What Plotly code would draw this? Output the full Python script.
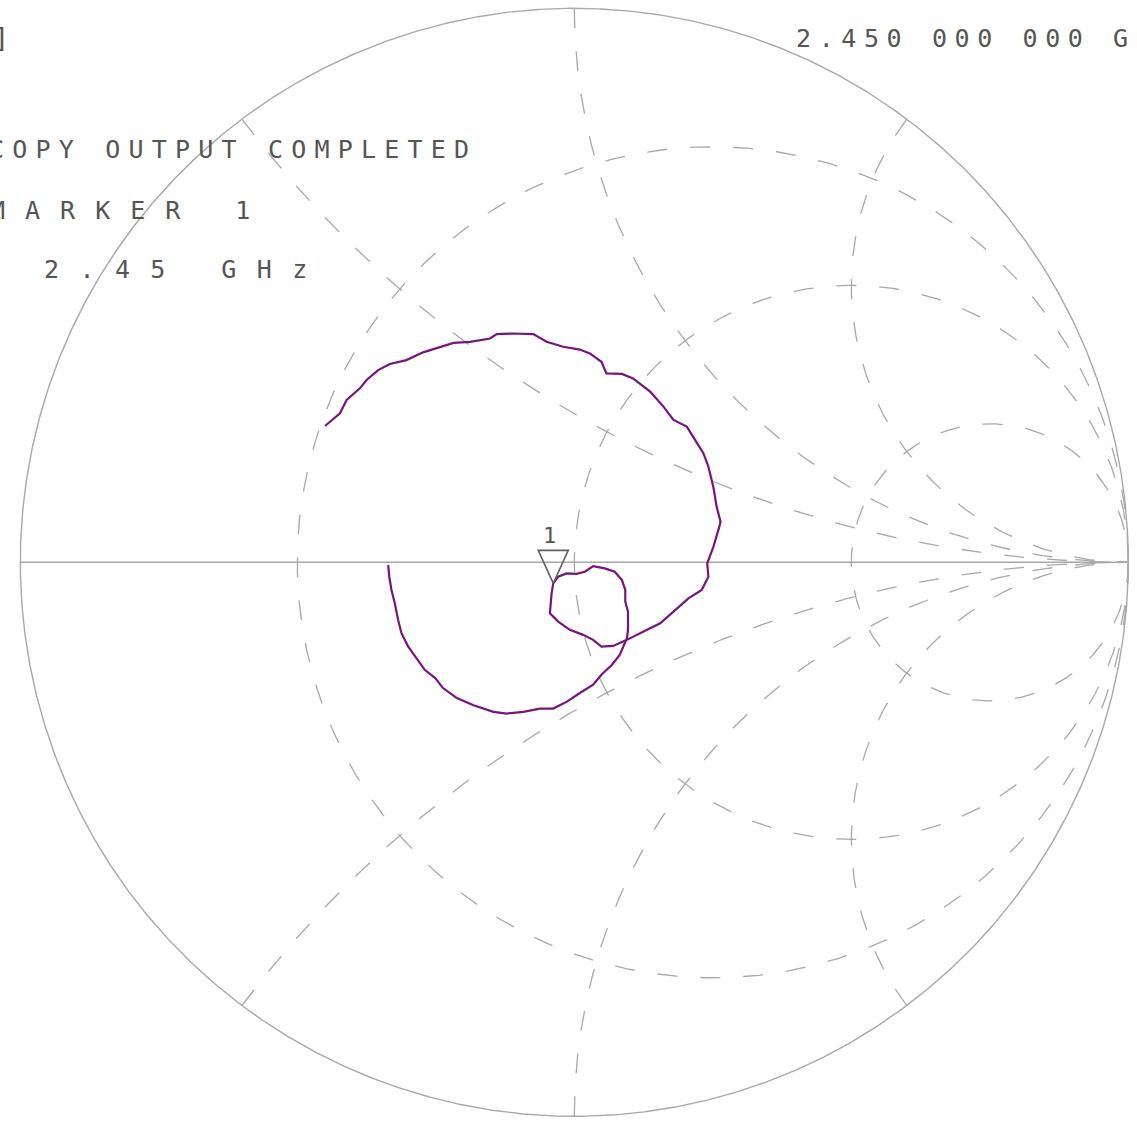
import numpy as np
import plotly.graph_objects as go

# ---- S11 sweep as reflection coefficient (real / imaginary parts) ----
s11_re = [-0.336, -0.334, -0.330, -0.324, -0.318, -0.312, -0.300, -0.285, -0.270, -0.251,
          -0.237, -0.212, -0.182, -0.146, -0.122, -0.092, -0.062, -0.038, -0.014, 0.010,
          0.034, 0.049, 0.068, 0.082, 0.092, 0.095, 0.097, 0.097, 0.092, 0.092,
          0.086, 0.073, 0.055, 0.034, 0.019, 0.004, -0.014, -0.029, -0.038, -0.041,
          -0.044, -0.029, -0.008, 0.016, 0.034, 0.049, 0.070, 0.095, 0.125, 0.155,
          0.179, 0.206, 0.230, 0.242, 0.240, 0.251, 0.260, 0.264, 0.257, 0.251,
          0.242, 0.233, 0.218, 0.203, 0.179, 0.161, 0.137, 0.106, 0.086, 0.058,
          0.049, 0.028, 0.010, -0.020, -0.050, -0.074, -0.110, -0.140, -0.152, -0.188,
          -0.218, -0.242, -0.273, -0.303, -0.333, -0.354, -0.375, -0.387, -0.411, -0.423,
          -0.450]
s11_im = [-0.005, -0.026, -0.050, -0.074, -0.104, -0.128, -0.152, -0.173, -0.194, -0.209,
          -0.227, -0.245, -0.258, -0.270, -0.273, -0.270, -0.264, -0.264, -0.252, -0.236,
          -0.221, -0.203, -0.185, -0.167, -0.146, -0.137, -0.122, -0.089, -0.071, -0.050,
          -0.032, -0.017, -0.011, -0.007, -0.017, -0.021, -0.020, -0.026, -0.038, -0.056,
          -0.092, -0.107, -0.122, -0.131, -0.140, -0.152, -0.151, -0.140, -0.125, -0.110,
          -0.089, -0.065, -0.050, -0.026, -0.002, 0.028, 0.058, 0.073, 0.100, 0.136,
          0.173, 0.197, 0.221, 0.245, 0.257, 0.281, 0.308, 0.332, 0.340, 0.341,
          0.362, 0.377, 0.384, 0.389, 0.398, 0.412, 0.413, 0.412, 0.404, 0.398,
          0.396, 0.389, 0.379, 0.365, 0.358, 0.347, 0.329, 0.314, 0.293, 0.269,
          0.246]

# ---- marker 1 ----
marker_label = "1"
marker_re = -0.038
marker_im = -0.038

# ---- screen annotations ----
top_left_text = "]"
status_text = "COPY OUTPUT COMPLETED"
marker_title = "MARKER 1"
marker_freq = "2.45 GHz"
stimulus_text = "2.450 000 000 GHz"

# ---- Smith chart graticule values ----
resistance_circles = [1 / 3, 1, 3]
reactance_arcs = [0.5, 1, 2]

W, H = 1137, 1123
X_RANGE = [-1.03664, 1.01570]
Y_RANGE = [-1.01209, 1.01498]
UPP = (X_RANGE[1] - X_RANGE[0]) / W  # data units per pixel

GRID = "#a8a8a8"
TEXT = "#555555"
TRACE = "#74167a"
FONT = "DejaVu Sans Mono"


def to_gamma(z):
    return (z - 1) / (z + 1)


fig = go.Figure()

# constant-resistance circles
t = np.linspace(-np.pi / 2 + 1e-4, np.pi / 2 - 1e-4, 1201)
for r in resistance_circles:
    g = to_gamma(r + 1j * np.tan(t))
    fig.add_trace(go.Scatter(x=g.real, y=g.imag, mode="lines", hoverinfo="skip",
                             line=dict(color=GRID, width=1.3, dash="20px,23px")))

# constant-reactance arcs
s = np.linspace(0, np.pi / 2 - 1e-4, 901)
for xv in reactance_arcs:
    for sign in (1, -1):
        g = to_gamma(np.tan(s) + 1j * sign * xv)
        fig.add_trace(go.Scatter(x=g.real, y=g.imag, mode="lines", hoverinfo="skip",
                                 line=dict(color=GRID, width=1.3, dash="20px,23px")))

# outer boundary and real axis
th = np.linspace(0, 2 * np.pi, 1441)
fig.add_trace(go.Scatter(x=np.cos(th), y=np.sin(th), mode="lines", hoverinfo="skip",
                         line=dict(color=GRID, width=1.4)))
fig.add_trace(go.Scatter(x=[-1, 1], y=[0, 0], mode="lines", hoverinfo="skip",
                         line=dict(color=GRID, width=1.4)))

# measured trace
fig.add_trace(go.Scatter(x=s11_re, y=s11_im, mode="lines", name="S11",
                         line=dict(color=TRACE, width=2.2)))

# marker triangle, tip on the marked point
tri_x = [marker_re, marker_re - 15 * UPP, marker_re + 15 * UPP, marker_re]
tri_y = [marker_im, marker_im + 33 * UPP, marker_im + 33 * UPP, marker_im]
fig.add_trace(go.Scatter(x=tri_x, y=tri_y, mode="lines", hoverinfo="skip",
                         line=dict(color="#606060", width=1.6)))
fig.add_annotation(x=marker_re - 4 * UPP, y=marker_im + 48 * UPP, xref="x", yref="y",
                   text=marker_label, showarrow=False,
                   font=dict(family=FONT, size=22, color=TEXT))


def spaced(txt, spacing):
    return f'<span style="letter-spacing:{spacing}px">{txt}</span>'


def add_screen_text(txt, px, py, spacing=0, anchor="left", size=25):
    fig.add_annotation(x=px / W, y=1 - py / H, xref="paper", yref="paper",
                       xanchor=anchor, yanchor="middle", showarrow=False,
                       text=spaced(txt, spacing) if spacing else txt,
                       font=dict(family=FONT, size=size, color=TEXT))


add_screen_text(top_left_text, 11, 37, anchor="right", size=27)
add_screen_text(stimulus_text, 793.5, 39, spacing=7.6)
add_screen_text(status_text, -13, 150, spacing=8.2)
add_screen_text(marker_title, -12, 210, spacing=20.0)
add_screen_text(marker_freq, 41.5, 270, spacing=20.4)

fig.update_layout(
    width=W, height=H,
    margin=dict(l=0, r=0, t=0, b=0, pad=0),
    paper_bgcolor="white", plot_bgcolor="white",
    showlegend=False,
    xaxis=dict(range=X_RANGE, visible=False, fixedrange=True),
    yaxis=dict(range=Y_RANGE, visible=False, fixedrange=True),
)

fig.write_html("out.html")
